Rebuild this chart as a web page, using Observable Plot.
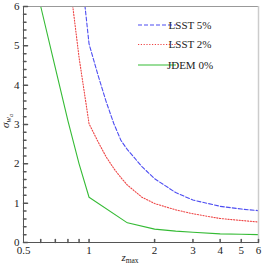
<!DOCTYPE html>
<html><head><meta charset="utf-8">
<script src="https://cdn.jsdelivr.net/npm/d3@7"></script>
<script src="https://cdn.jsdelivr.net/npm/@observablehq/plot@0.6"></script>
<style>body{margin:0;background:#fff}#chart{width:262px;height:271px}
#chart svg text{font-family:"Liberation Serif","Times New Roman","DejaVu Serif",serif !important}</style>
</head><body><div id="chart"></div>
<script>
// data
const lsst5Z = [0.9, 1.0, 1.1, 1.2, 1.3, 1.4, 1.5, 1.75, 2, 2.5, 3, 4, 5, 6];
const lsst5  = [7.4, 5.05, 4.25, 3.57, 3.02, 2.6, 2.36, 1.93, 1.62, 1.27, 1.08, 0.92, 0.85, 0.81];
const lsst2Z = [0.8, 0.9, 1.0, 1.1, 1.2, 1.3, 1.4, 1.5, 1.75, 2, 2.5, 3, 4, 5, 6];
const lsst2  = [7.0, 4.7, 3.02, 2.56, 2.17, 1.88, 1.65, 1.46, 1.15, 0.99, 0.83, 0.73, 0.61, 0.56, 0.52];
const jdemZ  = [0.5, 0.6, 0.7, 0.8, 0.9, 1.0, 1.5, 2, 2.5, 3, 4, 5, 6];
const jdem   = [8.0, 6.0, 4.44, 3.09, 2.0, 1.15, 0.5, 0.34, 0.29, 0.26, 0.22, 0.21, 0.2];
const seriesNames = ["LSST 5%", "LSST 2%", "JDEM 0%"];
const xTickLabels = [0.5, 1, 2, 3, 4, 5, 6];
const xTickMarks = [0.6, 0.7, 0.8, 0.9, 1, 2, 3, 4, 5, 6];
const yTickLabels = [0, 1, 2, 3, 4, 5, 6];
const yMinorTicks = d3.range(0, 31).map(i => i / 5).filter(v => Math.abs(v - Math.round(v)) > 1e-6);

const FONT = "Liberation Serif, Times New Roman, DejaVu Serif, serif";
const styles = [
  {stroke: "#4d4df2", strokeDasharray: "4,2"},
  {stroke: "#ee4545", strokeDasharray: "1.2,1.6"},
  {stroke: "#35bb35", strokeDasharray: null}
];
const toRows = (zs, vs) => zs.map((z, i) => ({z, v: vs[i]}));
const seriesData = [toRows(lsst5Z, lsst5), toRows(lsst2Z, lsst2), toRows(jdemZ, jdem)];

const tickShape = {draw(ctx, l) { ctx.moveTo(0, 0); ctx.lineTo(0, -l); }};
const axisColor = "#555";

const chart = Plot.plot({
  width: 262, height: 271,
  marginLeft: 23, marginRight: 4, marginTop: 6, marginBottom: 29,
  style: {fontFamily: FONT, fontSize: "11px", color: "#222", background: "#fff"},
  x: {type: "log", domain: [0.5, 6]},
  y: {domain: [0, 6]},
  marks: [
    ...seriesData.map((d, i) => Plot.line(d, {x: "z", y: "v", stroke: styles[i].stroke,
      strokeDasharray: styles[i].strokeDasharray, strokeWidth: 1.1, clip: true})),
    Plot.ruleY([6], {stroke: "#999"}),
    Plot.ruleX([6], {stroke: "#ccc", strokeWidth: 1.5}),
    Plot.ruleX([0.5], {stroke: axisColor}),
    Plot.ruleY([0], {stroke: axisColor}),
    Plot.vector(xTickMarks, {x: d => d, frameAnchor: "bottom", length: 3, anchor: "start", shape: tickShape, stroke: axisColor}),
    Plot.vector(yTickLabels, {y: d => d, frameAnchor: "left", rotate: 90, length: 4, anchor: "start", shape: tickShape, stroke: axisColor}),
    Plot.vector(yMinorTicks, {y: d => d, frameAnchor: "left", rotate: 90, length: 2.5, anchor: "start", shape: tickShape, stroke: axisColor}),
    Plot.axisX({ticks: xTickLabels, tickSize: 0, tickPadding: 4, tickFormat: d => String(d), label: null}),
    Plot.axisY({ticks: yTickLabels, tickSize: 0, tickPadding: 4, tickFormat: d => String(d), label: null})
  ]
});
document.getElementById("chart").appendChild(chart);

const svg = d3.select(chart);
// legend
const leg = svg.append("g").attr("font-family", FONT).attr("font-size", 11).attr("fill", "#222");
const legY = [25, 44.5, 65];
seriesNames.forEach((name, i) => {
  leg.append("line").attr("x1", 138).attr("x2", 176).attr("y1", legY[i]).attr("y2", legY[i])
    .attr("stroke", styles[i].stroke).attr("stroke-width", 1.1)
    .attr("stroke-dasharray", styles[i].strokeDasharray);
  leg.append("text").attr("x", 190).attr("y", legY[i]).attr("dy", "0.35em").text(name);
});
// axis labels
const yl = svg.append("text").attr("font-family", FONT).attr("font-size", 11)
  .attr("fill", "#222").attr("text-anchor", "middle").attr("transform", "translate(9,121) rotate(-90)");
yl.append("tspan").attr("font-style", "italic").text("σ");
yl.append("tspan").attr("font-style", "italic").attr("font-size", 8).attr("dy", 2).text("w");
yl.append("tspan").attr("font-style", "italic").attr("font-size", 6).attr("dy", 1.5).text("a");
const xl = svg.append("text").attr("font-family", FONT).attr("font-size", 11)
  .attr("fill", "#222").attr("x", 130).attr("y", 261);
xl.append("tspan").attr("font-style", "italic").text("z");
xl.append("tspan").attr("font-size", 7.5).attr("dy", 1.5).text("max");
</script>
</body></html>
